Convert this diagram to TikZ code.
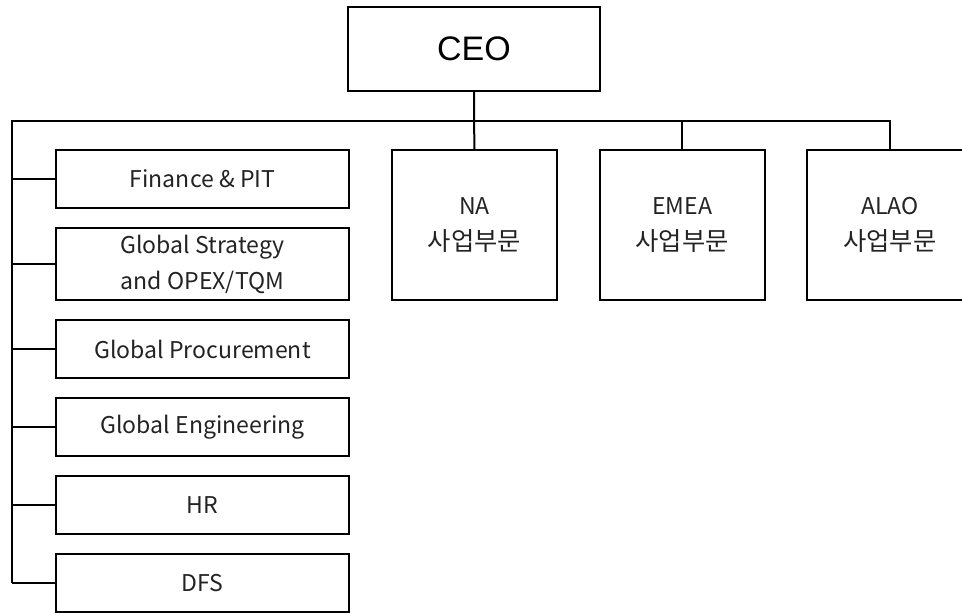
\documentclass[tikz,border=0pt]{standalone}
\usepackage{fontspec}
\setmainfont{Noto Sans CJK KR}
\newfontfamily\ceofont{Liberation Sans}
\usetikzlibrary{positioning}
\definecolor{txtgray}{RGB}{35,35,35}
\newcommand{\kr}[1]{{\fontsize{19}{27}\selectfont #1}}

\begin{document}
\begin{tikzpicture}[x=0.75pt, y=-0.75pt,
    line width=1.5pt,
    unit/.style={draw, text=txtgray, align=center, inner sep=0pt,
      font=\fontsize{17.3}{27}\selectfont},
    staff/.style={unit, minimum width=219.75pt, minimum height=43.5pt},
    division/.style={unit, minimum width=123.75pt, minimum height=112.5pt},
    node distance=13.5pt and 30.5pt]

    \useasboundingbox (0,0) rectangle (962,612);

    % Define nodes
    \node[draw, minimum width=189pt, minimum height=63pt, inner sep=0pt,
      font=\ceofont\fontsize{25.5}{28}\selectfont] (ceo) at (474,49) {CEO};
    \coordinate (bus) at (12,121);

    \node[staff]                               (fin)  at (202.5,179) {Finance \& PIT};
    \node[staff, minimum height=54pt, below=of fin] (strat) {Global Strategy\\and OPEX/TQM};
    \node[staff, below=of strat]               (proc) {Global Procurement};
    \node[staff, below=of proc]                (eng)  {Global Engineering};
    \node[staff, below=of eng]                 (hr)   {HR};
    \node[staff, below=of hr]                  (dfs)  {DFS};

    \node[division]                            (na)   at (474.5,225) {NA\\\kr{사업부문}};
    \node[division, right=of na]               (emea) {EMEA\\\kr{사업부문}};
    \node[division, right=of emea]             (alao) {ALAO\\\kr{사업부문}};

    % Connect the nodes
    \draw (ceo) -- (na);
    \draw (bus |- dfs.west) -- (bus) -- (alao.north |- bus) -- (alao.north);
    \draw (emea.north |- bus) -- (emea.north);
    \foreach \s in {fin,strat,proc,eng,hr,dfs}
      \draw (bus |- \s.west) -- (\s.west);

\end{tikzpicture}
\end{document}
